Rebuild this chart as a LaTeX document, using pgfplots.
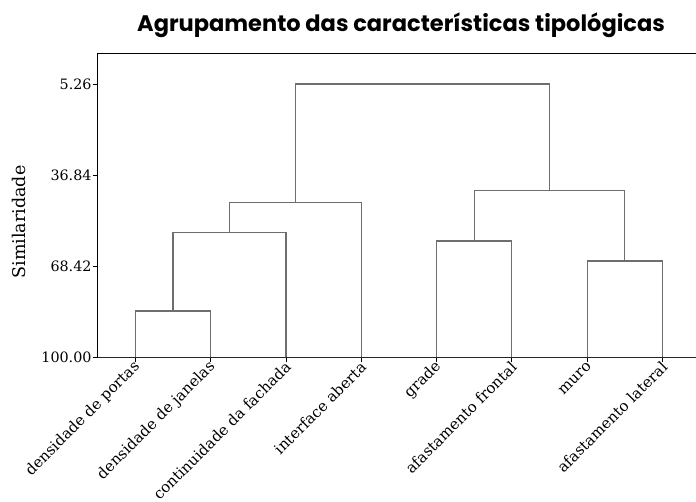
\documentclass[border=0pt]{standalone}
\usepackage{fontspec}
\setmainfont{DejaVu Serif}
\newfontfamily\titlefont{Poppins}
\usepackage{pgfplots}
\pgfplotsset{compat=1.18}
\definecolor{dgray}{HTML}{6E6E6E}
\pgfplotsset{dd/.style={dgray, line width=1.2pt, line join=miter, solid, no marks}}
\begin{document}
\begin{tikzpicture}
\path[use as bounding box] (-97.7pt,-143.7pt) rectangle (598.3pt,357.3pt);
\begin{axis}[
  at={(0,0)}, anchor=south west,
  scale only axis,
  width=598.3pt, height=304pt,
  xmin=-0.5, xmax=7.445,
  ymin=-5.39, ymax=100,
  y dir=reverse,
  axis line style={draw=none},
  clip=false,
  xtick={0,1,2,3,4,5,6,7},
  xticklabels={densidade de portas,densidade de janelas,continuidade da fachada,interface aberta,grade,afastamento frontal,muro,afastamento lateral},
  ytick={5.26,36.84,68.42,100},
  yticklabels={5.26,36.84,68.42,100.00},
  tick align=outside,
  major tick length=5pt,
  xtick pos=bottom, ytick pos=left,
  every tick/.style={black, line width=0.9pt},
  yticklabel style={inner sep=1pt, font=\fontsize{14.3}{16}\selectfont},
  xticklabel style={font=\fontsize{15}{17}\selectfont, rotate=45, anchor=east, inner sep=1pt, xshift=1pt, yshift=-3pt},
  ylabel={Similaridade},
  ylabel style={font=\fontsize{17.5}{19}\selectfont, at={(axis description cs:-0.132,0.445)}, anchor=center, rotate=0},
]
\draw[black, line width=1pt] (rel axis cs:0,0) -- (rel axis cs:0,1) -- (rel axis cs:1,1);
\draw[black!85, line width=1.6pt] (rel axis cs:0,0) -- (rel axis cs:1,0);
\node[font=\titlefont\bfseries\fontsize{22.5}{26}\selectfont, anchor=base] at (rel axis cs:0.507,1.0) [yshift=21.6pt] {Agrupamento das características tipológicas};
\addplot[dd] coordinates {(0,100) (0,83.93) (1,83.93) (1,100)};
\addplot[dd] coordinates {(0.5,83.93) (0.5,56.63) (2,56.63) (2,100)};
\addplot[dd] coordinates {(1.25,56.63) (1.25,46.22) (3,46.22) (3,100)};
\addplot[dd] coordinates {(4,100) (4,59.65) (5,59.65) (5,100)};
\addplot[dd] coordinates {(6,100) (6,66.6) (7,66.6) (7,100)};
\addplot[dd] coordinates {(4.5,59.65) (4.5,42.2) (6.5,42.2) (6.5,66.6)};
\addplot[dd] coordinates {(2.125,46.22) (2.125,5.26) (5.5,5.26) (5.5,42.2)};
\end{axis}
\end{tikzpicture}
\end{document}
